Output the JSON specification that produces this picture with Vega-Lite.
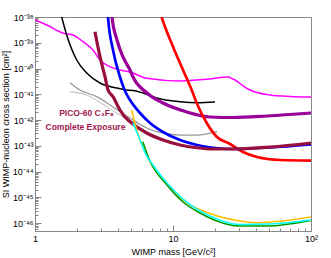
{
  "$schema": "https://vega.github.io/schema/vega-lite/v6.json",
  "width": 276,
  "height": 214,
  "autosize": {"type": "none"},
  "padding": {"left": 35, "top": 17, "right": 20, "bottom": 27},
  "background": "white",
  "config": {
    "view": {"stroke": "#888", "strokeWidth": 1},
    "axis": {
      "grid": false,
      "domainColor": "#888",
      "tickColor": "#888",
      "labelFont": "Liberation Sans",
      "titleFont": "Liberation Sans",
      "labelFontSize": 9,
      "titleFontSize": 9,
      "titleFontWeight": "normal",
      "labelColor": "#000",
      "titleColor": "#000",
      "labelOverlap": false,
      "labelFlush": false
    }
  },
  "datasets": {
    "curves": [
      {"s": "magenta", "m": 1, "v": 7.64e-39},
      {"s": "magenta", "m": 1.215, "v": 4.89e-39},
      {"s": "magenta", "m": 1.604, "v": 2.33e-39},
      {"s": "magenta", "m": 1.886, "v": 2.0e-39},
      {"s": "magenta", "m": 2.228, "v": 1.10e-39},
      {"s": "magenta", "m": 2.633, "v": 5.22e-40},
      {"s": "magenta", "m": 2.958, "v": 2.14e-40},
      {"s": "magenta", "m": 3.495, "v": 1.175e-40},
      {"s": "magenta", "m": 4.13, "v": 8.75e-41},
      {"s": "magenta", "m": 4.88, "v": 7.31e-41},
      {"s": "magenta", "m": 6.449, "v": 4.17e-41},
      {"s": "magenta", "m": 11.24, "v": 3.27e-41},
      {"s": "magenta", "m": 17.55, "v": 3.81e-41},
      {"s": "magenta", "m": 25.03, "v": 4.68e-41},
      {"s": "magenta", "m": 27.21, "v": 3.91e-41},
      {"s": "magenta", "m": 36.14, "v": 1.46e-41},
      {"s": "magenta", "m": 50.46, "v": 9.35e-42},
      {"s": "magenta", "m": 70.4, "v": 8.18e-42},
      {"s": "magenta", "m": 100, "v": 7.82e-42},

      {"s": "black", "m": 1.518, "v": 1.87e-38},
      {"s": "black", "m": 1.562, "v": 1.0e-38},
      {"s": "black", "m": 1.697, "v": 2.0e-39},
      {"s": "black", "m": 2.005, "v": 2.14e-40},
      {"s": "black", "m": 2.37, "v": 6.68e-41},
      {"s": "black", "m": 2.958, "v": 2.74e-41},
      {"s": "black", "m": 3.908, "v": 1.75e-41},
      {"s": "black", "m": 4.618, "v": 1.46e-41},
      {"s": "black", "m": 5.13, "v": 1.40e-41},
      {"s": "black", "m": 6.062, "v": 1.12e-41},
      {"s": "black", "m": 7.62, "v": 7.14e-42},
      {"s": "black", "m": 11.24, "v": 5.14e-42},
      {"s": "black", "m": 14.93, "v": 4.70e-42},
      {"s": "black", "m": 20.15, "v": 5.0e-42},

      {"s": "greyDark", "m": 1.793, "v": 2.81e-41},
      {"s": "greyDark", "m": 2.119, "v": 1.46e-41},
      {"s": "greyDark", "m": 2.8, "v": 8.04e-42},
      {"s": "greyDark", "m": 3.495, "v": 3.83e-42},
      {"s": "greyDark", "m": 4.13, "v": 2.10e-42},
      {"s": "greyDark", "m": 4.88, "v": 1.20e-42},
      {"s": "greyDark", "m": 6.449, "v": 4.89e-43},
      {"s": "greyDark", "m": 8.463, "v": 3.13e-43},
      {"s": "greyDark", "m": 11.24, "v": 2.61e-43},
      {"s": "greyDark", "m": 14.93, "v": 2.61e-43},
      {"s": "greyDark", "m": 19.49, "v": 3.21e-43},
      {"s": "greyDark", "m": 20.84, "v": 3.52e-43},

      {"s": "greyLight", "m": 1.793, "v": 1.26e-41},
      {"s": "greyLight", "m": 2.37, "v": 9.35e-42},
      {"s": "greyLight", "m": 3.308, "v": 3.29e-42},
      {"s": "greyLight", "m": 4.13, "v": 1.56e-42},
      {"s": "greyLight", "m": 4.88, "v": 1.0e-42},
      {"s": "greyLight", "m": 5.768, "v": 6.40e-43},

      {"s": "purple", "m": 3.583, "v": 1.87e-38},
      {"s": "purple", "m": 3.614, "v": 1.0e-38},
      {"s": "purple", "m": 3.928, "v": 1.28e-39},
      {"s": "purple", "m": 4.342, "v": 2.80e-40},
      {"s": "purple", "m": 4.88, "v": 8.75e-41},
      {"s": "purple", "m": 5.13, "v": 4.68e-41},
      {"s": "purple", "m": 6.481, "v": 1.12e-41},
      {"s": "purple", "m": 8.463, "v": 4.57e-42},
      {"s": "purple", "m": 12.63, "v": 2.05e-42},
      {"s": "purple", "m": 18.54, "v": 1.31e-42},
      {"s": "purple", "m": 27.21, "v": 1.25e-42},
      {"s": "purple", "m": 48.0, "v": 1.43e-42},
      {"s": "purple", "m": 100, "v": 1.87e-42},

      {"s": "red", "m": 7.98, "v": 1.87e-38},
      {"s": "red", "m": 8.282, "v": 9.73e-39},
      {"s": "red", "m": 10, "v": 7.03e-40},
      {"s": "red", "m": 11.82, "v": 8.75e-41},
      {"s": "red", "m": 13.66, "v": 1.46e-41},
      {"s": "red", "m": 14.85, "v": 4.57e-42},
      {"s": "red", "m": 17.55, "v": 7.64e-43},
      {"s": "red", "m": 20.73, "v": 2.24e-43},
      {"s": "red", "m": 25.88, "v": 1.17e-43},
      {"s": "red", "m": 32.15, "v": 5.71e-44},
      {"s": "red", "m": 40.62, "v": 3.66e-44},
      {"s": "red", "m": 59.63, "v": 2.80e-44},
      {"s": "red", "m": 100, "v": 2.67e-44},

      {"s": "blue", "m": 3.353, "v": 1.87e-38},
      {"s": "blue", "m": 3.381, "v": 1.0e-38},
      {"s": "blue", "m": 3.675, "v": 5.22e-40},
      {"s": "blue", "m": 4.13, "v": 4.68e-41},
      {"s": "blue", "m": 4.489, "v": 1.34e-41},
      {"s": "blue", "m": 4.88, "v": 5.98e-42},
      {"s": "blue", "m": 5.768, "v": 1.87e-42},
      {"s": "blue", "m": 6.813, "v": 7.64e-43},
      {"s": "blue", "m": 8.463, "v": 3.42e-43},
      {"s": "blue", "m": 11.24, "v": 1.67e-43},
      {"s": "blue", "m": 14.93, "v": 1.07e-43},
      {"s": "blue", "m": 19.49, "v": 8.39e-44},
      {"s": "blue", "m": 27.21, "v": 7.48e-44},
      {"s": "blue", "m": 50.46, "v": 8.55e-44},
      {"s": "blue", "m": 100, "v": 1.12e-43},

      {"s": "maroon", "m": 2.721, "v": 2.69e-39},
      {"s": "maroon", "m": 2.958, "v": 2.87e-40},
      {"s": "maroon", "m": 3.215, "v": 4.81e-41},
      {"s": "maroon", "m": 3.381, "v": 1.46e-41},
      {"s": "maroon", "m": 3.675, "v": 8.04e-42},
      {"s": "maroon", "m": 4.13, "v": 2.44e-42},
      {"s": "maroon", "m": 4.72, "v": 1.0e-42},
      {"s": "maroon", "m": 4.88, "v": 8.59e-43},
      {"s": "maroon", "m": 6.449, "v": 3.13e-43},
      {"s": "maroon", "m": 8.463, "v": 1.67e-43},
      {"s": "maroon", "m": 11.24, "v": 1.07e-43},
      {"s": "maroon", "m": 14.85, "v": 8.39e-44},
      {"s": "maroon", "m": 19.49, "v": 7.48e-44},
      {"s": "maroon", "m": 25.88, "v": 7.48e-44},
      {"s": "maroon", "m": 50.46, "v": 8.93e-44},
      {"s": "maroon", "m": 100, "v": 1.28e-43},

      {"s": "gold", "m": 5.02, "v": 2.44e-42},
      {"s": "gold", "m": 5.457, "v": 4.09e-43},
      {"s": "gold", "m": 6.449, "v": 4.38e-44},
      {"s": "gold", "m": 6.813, "v": 2.34e-44},
      {"s": "gold", "m": 9.048, "v": 3.27e-45},
      {"s": "gold", "m": 11.82, "v": 7.82e-46},
      {"s": "gold", "m": 18.54, "v": 2.34e-46},
      {"s": "gold", "m": 30.59, "v": 1.20e-46},
      {"s": "gold", "m": 40.62, "v": 1.03e-46},
      {"s": "gold", "m": 100, "v": 1.71e-46},

      {"s": "green", "m": 6.032, "v": 1.44e-43},
      {"s": "green", "m": 6.813, "v": 2.56e-44},
      {"s": "green", "m": 9.048, "v": 2.99e-45},
      {"s": "green", "m": 11.82, "v": 6.55e-46},
      {"s": "green", "m": 15.7, "v": 2.44e-46},
      {"s": "green", "m": 19.49, "v": 1.37e-46},
      {"s": "green", "m": 30.59, "v": 7.64e-47},
      {"s": "green", "m": 48.0, "v": 7.64e-47},
      {"s": "green", "m": 100, "v": 1.25e-46},

      {"s": "cyan", "m": 5.13, "v": 7.64e-43},
      {"s": "cyan", "m": 5.768, "v": 1.67e-43},
      {"s": "cyan", "m": 6.449, "v": 4.0e-44},
      {"s": "cyan", "m": 6.813, "v": 2.56e-44},
      {"s": "cyan", "m": 9.048, "v": 3.57e-45},
      {"s": "cyan", "m": 11.82, "v": 8.55e-46},
      {"s": "cyan", "m": 18.54, "v": 1.87e-46},
      {"s": "cyan", "m": 30.59, "v": 8.75e-47},
      {"s": "cyan", "m": 50.46, "v": 9.14e-47},
      {"s": "cyan", "m": 100, "v": 1.31e-46}
    ],
    "labels": [
      {"m": 2.36, "v": 1.87e-42, "t": "PICO-60 C₃F₈"},
      {"m": 2.32, "v": 5.35e-43, "t": "Complete Exposure"}
    ]
  },
  "layer": [
    {
      "data": {"name": "curves"},
      "mark": {"type": "line", "clip": true, "interpolate": "monotone", "strokeCap": "butt"},
      "encoding": {
        "x": {
          "field": "m", "type": "quantitative",
          "scale": {"type": "log", "domain": [1, 100], "nice": false},
          "axis": {
            "title": "WIMP mass [GeV/c²]",
            "titlePadding": 1,
            "values": [1,2,3,4,5,6,7,8,9,10,20,30,40,50,60,70,80,90,100],
            "labelExpr": "datum.value == 1 ? '1' : datum.value == 10 ? '10' : datum.value == 100 ? '10²' : ''",
            "tickSize": {"condition": {"test": "datum.value == 1 || datum.value == 10 || datum.value == 100", "value": -6}, "value": -3},
            "labelPadding": 9
          }
        },
        "y": {
          "field": "v", "type": "quantitative",
          "scale": {"type": "log", "domain": [4.9e-47, 1e-38], "nice": false},
          "axis": {
            "title": "SI WIMP-nucleon cross section [cm²]",
            "titlePadding": 2,
            "values": [5e-47,6e-47,7e-47,8e-47,9e-47,
              1e-46,2e-46,3e-46,4e-46,5e-46,6e-46,7e-46,8e-46,9e-46,
              1e-45,2e-45,3e-45,4e-45,5e-45,6e-45,7e-45,8e-45,9e-45,
              1e-44,2e-44,3e-44,4e-44,5e-44,6e-44,7e-44,8e-44,9e-44,
              1e-43,2e-43,3e-43,4e-43,5e-43,6e-43,7e-43,8e-43,9e-43,
              1e-42,2e-42,3e-42,4e-42,5e-42,6e-42,7e-42,8e-42,9e-42,
              1e-41,2e-41,3e-41,4e-41,5e-41,6e-41,7e-41,8e-41,9e-41,
              1e-40,2e-40,3e-40,4e-40,5e-40,6e-40,7e-40,8e-40,9e-40,
              1e-39,2e-39,3e-39,4e-39,5e-39,6e-39,7e-39,8e-39,9e-39,
              1e-38],
            "labelExpr": "abs(log(datum.value)/LN10 - round(log(datum.value)/LN10)) < 0.001 ? ['10⁻³⁸','10⁻³⁹','10⁻⁴⁰','10⁻⁴¹','10⁻⁴²','10⁻⁴³','10⁻⁴⁴','10⁻⁴⁵','10⁻⁴⁶'][-38 - round(log(datum.value)/LN10)] : ''",
            "tickSize": {"condition": {"test": "abs(log(datum.value)/LN10 - round(log(datum.value)/LN10)) < 0.001", "value": -6}, "value": -3},
            "labelPadding": 8
          }
        },
        "color": {
          "field": "s", "type": "nominal", "legend": null,
          "scale": {
            "domain": ["magenta","black","greyDark","greyLight","purple","red","blue","maroon","gold","green","cyan"],
            "range": ["#ff00ff","#000000","#999999","#c8c8c8","#990099","#ff0000","#0000ff","#99103f","#ffc000","#009900","#00ffff"]
          }
        },
        "strokeWidth": {
          "field": "s", "type": "ordinal", "legend": null,
          "scale": {
            "type": "ordinal",
            "domain": ["magenta","black","greyDark","greyLight","purple","red","blue","maroon","gold","green","cyan"],
            "range": [1.5,1.5,1.3,1.3,3.2,2.7,2.7,3.2,1.6,1.6,1.6]
          }
        }
      }
    },
    {
      "data": {"name": "labels"},
      "mark": {"type": "text", "font": "Liberation Sans", "fontSize": 8.5, "fontWeight": "bold", "color": "#a0174f", "align": "center", "baseline": "middle"},
      "encoding": {
        "x": {"field": "m", "type": "quantitative"},
        "y": {"field": "v", "type": "quantitative"},
        "text": {"field": "t"}
      }
    }
  ]
}
